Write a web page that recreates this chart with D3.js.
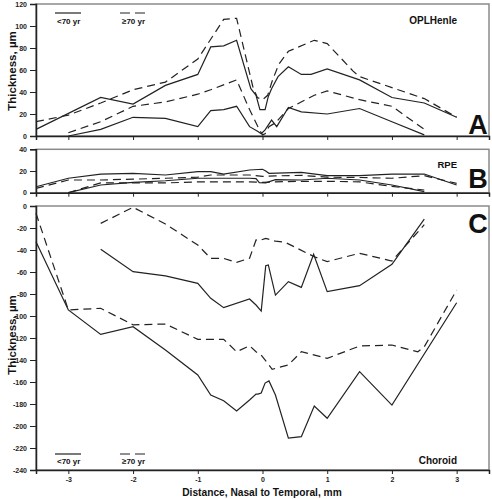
<!DOCTYPE html>
<html><head><meta charset="utf-8">
<script src="https://cdn.jsdelivr.net/npm/d3@7"></script>
<style>body{margin:0;background:#fff}svg{display:block}text{font-family:"Liberation Sans",Arial,sans-serif}</style>
</head><body><svg id="c" width="492" height="499"></svg>
<script>
// ---- data (distance in mm, thickness in µm) ----
const xTicks = [-3,-2,-1,0,1,2,3];
const ticksA = [0,20,40,60,80,100,120];
const ticksB = [0,20,40];
const ticksC = [0,-20,-40,-60,-80,-100,-120,-140,-160,-180,-200,-220,-240];
const legendLabels = ["<70 yr","≥70 yr"];

// Panel A: OPLHenle
const aSolidUpX = [-3.5,-2.5,-2,-1.5,-1,-0.8,-0.6,-0.4,-0.18,-0.1,-0.04,0.04,0.09,0.14,0.24,0.4,0.6,0.75,1,1.5,2,2.5,3];
const aSolidUpY = [6,35,29,46,56,81,82,87,43,37,24,24,36,43,54,63,56,56,61,51,35,30,17];
const aDashUpX = [-3.5,-3,-2.5,-2,-1.5,-1,-0.6,-0.4,-0.15,-0.08,0,0.08,0.15,0.25,0.4,0.8,1,1.4,1.5,2,2.5,3];
const aDashUpY = [13,19,30,42,49,70,106,107,45,35,33,37,50,65,77,87,84,59,54,44,34,17];
const aSolidLoX = [-3,-2.5,-2,-1.5,-1,-0.8,-0.6,-0.4,-0.2,-0.07,-0.02,0.04,0.14,0.22,0.4,0.6,1,1.5,2,2.5];
const aSolidLoY = [0,6,17,16,8.5,23,24,27,8.5,4,2,5.5,14.5,8.5,26,22,20,25,13,1];
const aDashLoX = [-3,-2.5,-2,-1.5,-1,-0.8,-0.4,-0.2,-0.05,0,0.04,0.1,0.2,0.4,0.8,1,1.5,2,2.5];
const aDashLoY = [3,13,27,31,38,42,51,24,6,1,2,8.5,12,25,37,41,33,27,6];

// Panel B: RPE
const bSolidUpX = [-3.5,-3,-2.5,-2,-1.5,-1,-0.8,-0.6,-0.2,0,0.05,0.1,0.6,1,1.5,2,2.5,3];
const bSolidUpY = [5.5,13.3,17.2,17.9,16.3,19.4,19.4,17.2,20.9,21.6,20,17.9,18.8,15.7,15.7,17.2,17.2,7.1];
const bDashUpX = [-3.5,-3,-2.5,-2,-1.5,-1,-0.8,-0.2,0,0.2,0.6,1,1.5,2,2.5,3];
const bDashUpY = [4,11.7,11.7,12.5,13.3,14.3,16.3,16.3,15,15.5,16,14.3,14,13.3,15.7,8.6];
const bSolidLoX = [-3,-2.5,-2,-1.5,-1,-0.2,-0.1,-0.05,0.05,0.2,0.6,1,1.5,2,2.5];
const bSolidLoY = [0,7.1,9.6,11,13.3,13.3,13,9.2,9,12,11.7,13.3,11.7,7.1,1];
const bDashLoX = [-3,-2.5,-2,-1.5,-1,-0.2,0,0.2,0.6,1,1.5,2,2.5];
const bDashLoY = [0,9,9,9,10,10,9.5,10,10.5,10.5,10,5.8,2.5];

// Panel C: Choroid
const cSolidUpX = [-2.5,-2,-1.5,-1,-0.8,-0.6,-0.2,-0.1,-0.02,0.05,0.09,0.2,0.4,0.6,0.79,1,1.5,2,2.5];
const cSolidUpY = [-39.4,-59.7,-63.6,-70.3,-83.9,-92.4,-84.5,-90,-95.5,-54.3,-53.6,-81,-68.8,-74,-43.9,-77.9,-72.4,-53,-12];
const cDashUpX = [-2.5,-2,-1.5,-1,-0.8,-0.6,-0.4,-0.2,-0.1,-0.05,0.05,0.2,0.35,0.8,1,1.5,2,2.5];
const cDashUpY = [-15.8,-1.2,-16.4,-35.5,-47.6,-47.6,-51.2,-47.5,-30.9,-31.5,-29.4,-32,-33,-46.1,-50.6,-43,-50,-17];
const cSolidLoX = [-3.5,-3,-2.5,-2,-1.5,-1,-0.8,-0.6,-0.4,-0.2,-0.1,-0.07,-0.02,0.04,0.1,0.2,0.4,0.6,0.8,1,1.5,2,3];
const cSolidLoY = [-32.5,-94.5,-116.7,-109.7,-131,-153.6,-171.8,-177,-186.4,-176.4,-171,-171,-170,-161,-159,-171.8,-211,-209.7,-181.8,-193,-150.6,-181,-88];
const cDashLoX = [-3.5,-3,-2.5,-2,-1.5,-1,-0.6,-0.4,-0.2,-0.1,-0.02,0.08,0.15,0.2,0.4,0.6,1,1.5,2,2.4,2.5,3];
const cDashLoY = [-6.6,-94.5,-93,-108,-107.3,-121.2,-121.2,-132.5,-127,-132.5,-135.5,-143,-148.5,-147.6,-144.5,-132.5,-138.5,-127.3,-126.4,-132.5,-128,-76.4];

// ---- drawing ----
const svg = d3.select("#c");
const L = 36, R = 489;
const x = d3.scaleLinear().domain([-3.5,3.5]).range([L,R]);
const panels = [
  {y: d3.scaleLinear().domain([0,120]).range([136,4]), ticks: ticksA, top:4, bottom:136,
   series:[[aSolidUpX,aSolidUpY,0],[aDashUpX,aDashUpY,1],[aSolidLoX,aSolidLoY,0],[aDashLoX,aDashLoY,1]]},
  {y: d3.scaleLinear().domain([0,40]).range([192.7,149.3]), ticks: ticksB, top:149.3, bottom:192.7,
   series:[[bSolidUpX,bSolidUpY,0],[bDashUpX,bDashUpY,1],[bSolidLoX,bSolidLoY,0],[bDashLoX,bDashLoY,1]]},
  {y: d3.scaleLinear().domain([-240,0]).range([470,206]), ticks: ticksC, top:206, bottom:470,
   series:[[cSolidUpX,cSolidUpY,0],[cDashUpX,cDashUpY,1],[cSolidLoX,cSolidLoY,0],[cDashLoX,cDashLoY,1]]}
];
const DASH = "8,5";
panels.forEach((p,i) => {
  svg.append("rect").attr("x",L).attr("y",p.top).attr("width",R-L).attr("height",p.bottom-p.top)
    .attr("fill","none").attr("stroke","#8a8a8a").attr("stroke-width",1.5);
  const ya = svg.append("g").attr("transform",`translate(${L},0)`)
    .call(d3.axisLeft(p.y).tickValues(p.ticks).tickSize(6).tickPadding(3).tickFormat(d=>String(d)));
  ya.select(".domain").attr("stroke","#222").attr("stroke-width",1.5);
  ya.selectAll(".tick line").attr("stroke","#222").attr("stroke-width",1);
  ya.selectAll("text").attr("font-size",7).attr("fill","#222").attr("font-weight","bold");
  const xa = svg.append("g").attr("transform",`translate(0,${p.bottom})`)
    .call(d3.axisBottom(x).tickValues(xTicks).tickSize(4).tickPadding(3).tickFormat(i===2? (d=>String(d)) : ""));
  xa.select(".domain").attr("stroke","#222").attr("stroke-width",1.5);
  xa.selectAll(".tick line").attr("stroke","#222");
  xa.selectAll("text").attr("font-size",7).attr("fill","#222").attr("font-weight","bold");
  const line = d3.line().x(d=>x(d[0])).y(d=>p.y(d[1]));
  p.series.forEach(([xs,ys,dash]) => {
    svg.append("path").datum(xs.map((v,k)=>[v,ys[k]])).attr("d",line)
      .attr("fill","none").attr("stroke","#222").attr("stroke-width",1.2)
      .attr("stroke-dasharray", dash? DASH : null);
  });
});

function txt(s, xx, yy, size, anchor){ return svg.append("text").attr("x",xx).attr("y",yy).attr("font-size",size)
  .attr("font-weight","bold").attr("text-anchor",anchor||"start").attr("fill","#111").text(s); }
txt("OPLHenle",457,24,10,"end");
txt("A",478,134,27,"middle");
txt("RPE",457,168,9.5,"end");
txt("B",478,188,27,"middle");
txt("C",478,233,27,"middle");
txt("Choroid",457,464,10,"end");
txt("Distance, Nasal to Temporal, mm",262,496,10.2,"middle");
svg.append("text").attr("transform","translate(16,71) rotate(-90)").attr("text-anchor","middle")
  .attr("font-size",11.5).attr("font-weight","bold").attr("fill","#111").text("Thickness, µm");
svg.append("text").attr("transform","translate(16,335) rotate(-90)").attr("text-anchor","middle")
  .attr("font-size",11.5).attr("font-weight","bold").attr("fill","#111").text("Thickness, µm");

[[13,24],[454,464]].forEach(([ly,ty]) => {
  svg.append("line").attr("x1",55).attr("x2",81).attr("y1",ly).attr("y2",ly).attr("stroke","#222").attr("stroke-width",1.2);
  svg.append("line").attr("x1",120).attr("x2",145).attr("y1",ly).attr("y2",ly).attr("stroke","#222").attr("stroke-width",1.2)
    .attr("stroke-dasharray","10,5");
  txt(legendLabels[0],57,ty,8);
  txt(legendLabels[1],122,ty,8);
});
</script></body></html>
